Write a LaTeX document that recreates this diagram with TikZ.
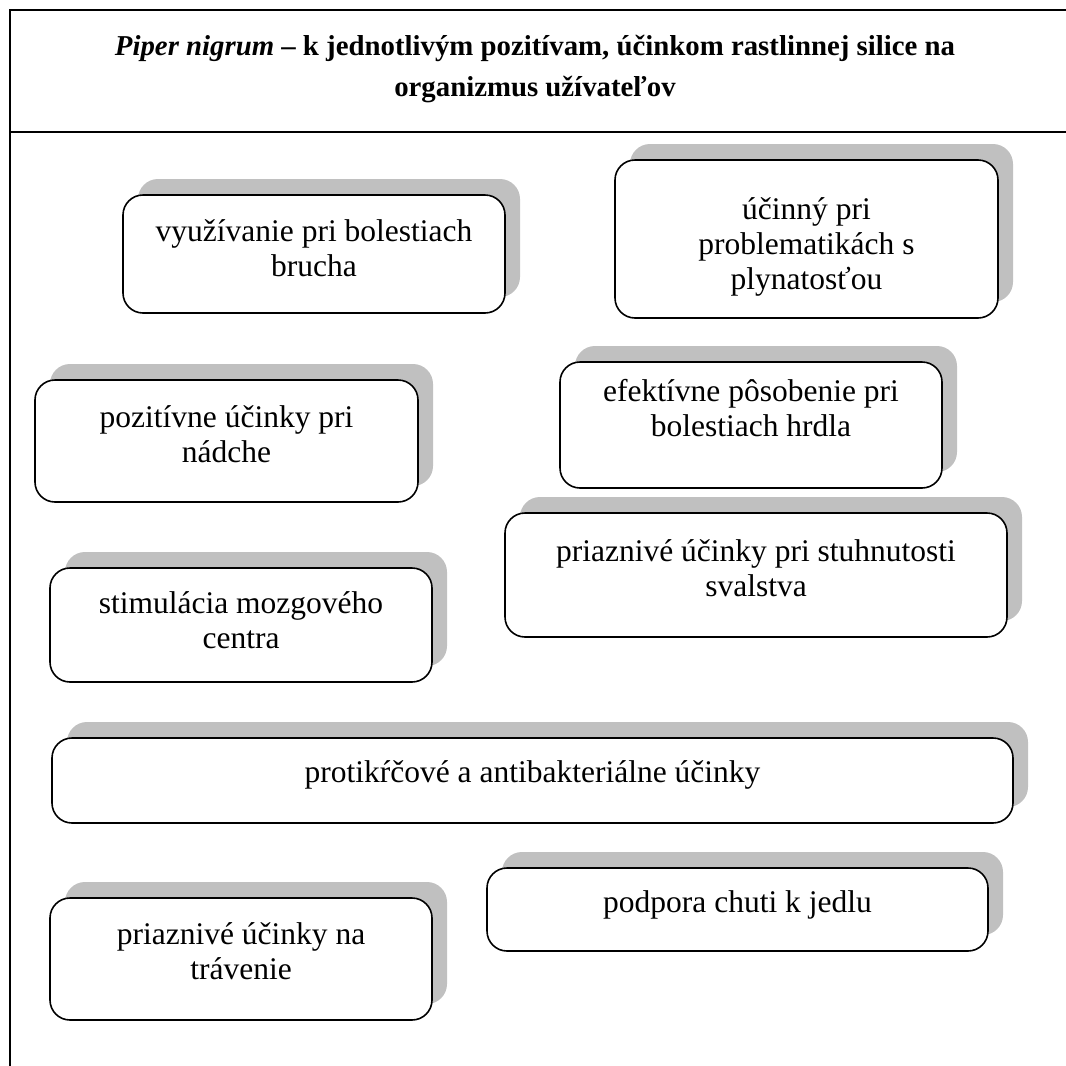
\documentclass[tikz,border=0pt]{standalone}
\usepackage{fontspec}
\setmainfont{Liberation Serif}
\usetikzlibrary{shadows}
\definecolor{shadowgray}{HTML}{C0C0C0}
\newcommand{\bxtext}[2]{\raisebox{#1}[0pt][0pt]{\begin{tabular}{@{}c@{}}#2\end{tabular}}}
\begin{document}
\begin{tikzpicture}[x=1pt,y=-1pt,
  framel/.style={line width=2pt,black},
  bx/.style={draw=black, line width=1.6pt, fill=white, rectangle,
    rounded corners=20pt, align=center, inner sep=0pt,
    font=\fontsize{31.5}{35}\selectfont,
    drop shadow={shadow xshift=15pt, shadow yshift=16pt, fill=shadowgray, opacity=1}},
  ttl/.style={align=center, font=\fontsize{28.8}{41}\selectfont\bfseries}]
\useasboundingbox (0,0) rectangle (1066,1066);
% frame
\coordinate (tl) at (10,10);
\coordinate (tr) at (1066,10);
\coordinate (sl) at (10,132);
\coordinate (sr) at (1066,132);
\coordinate (bl) at (10,1066);
\draw[framel] (tr) -- (tl) -- (bl);
\draw[framel] (sl) -- (sr);
\node[ttl] (title) at (535,69) {\textit{Piper nigrum} – k jednotlivým pozitívam, účinkom rastlinnej silice na\\organizmus užívateľov};
% boxes
\node[bx, minimum width=382pt, minimum height=118pt] (b1) at (314,254) {\bxtext{-3.9pt}{využívanie pri bolestiach\\brucha}};
\node[bx, minimum width=383pt, minimum height=158pt] (b2) at (806.5,239) {\bxtext{-14.9pt}{účinný pri\\problematikách s\\plynatosťou}};
\node[bx, minimum width=383pt, minimum height=122pt] (b3) at (226.5,441) {\bxtext{-2.9pt}{pozitívne účinky pri\\nádche}};
\node[bx, minimum width=382pt, minimum height=126pt] (b4) at (751,425) {\bxtext{7.1pt}{efektívne pôsobenie pri\\bolestiach hrdla}};
\node[bx, minimum width=502pt, minimum height=124pt] (b5) at (756,575) {\bxtext{-2.9pt}{priaznivé účinky pri stuhnutosti\\svalstva}};
\node[bx, minimum width=382pt, minimum height=114pt] (b6) at (241,625) {\bxtext{-4.9pt}{stimulácia mozgového\\centra}};
\node[bx, minimum width=961pt, minimum height=85pt] (b7) at (532.5,780.5) {\bxtext{-0.9pt}{protikŕčové a antibakteriálne účinky}};
\node[bx, minimum width=501pt, minimum height=83pt] (b8) at (737.5,909.5) {\bxtext{-1.9pt}{podpora chuti k jedlu}};
\node[bx, minimum width=382pt, minimum height=122pt] (b9) at (241,959) {\bxtext{-1.9pt}{priaznivé účinky na\\trávenie}};
\end{tikzpicture}
\end{document}
